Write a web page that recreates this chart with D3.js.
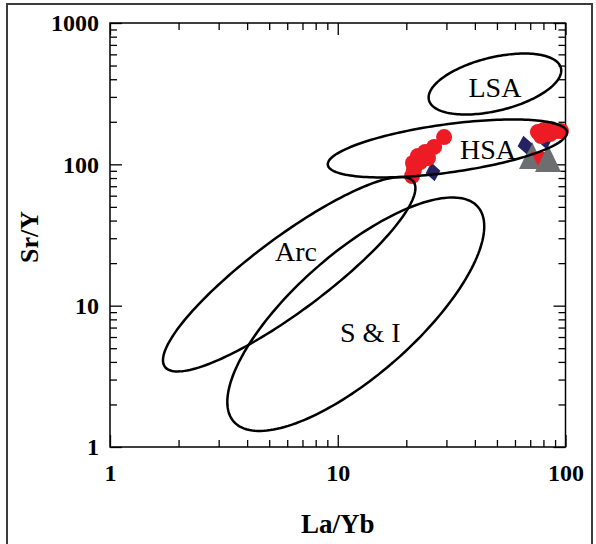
<!DOCTYPE html>
<html>
<head>
<meta charset="utf-8">
<script src="https://cdn.jsdelivr.net/npm/d3@7"></script>
<style>
    body { margin: 0; background: #fff; }
    text { font-family: "Liberation Serif", "Times New Roman", serif; }
</style>
</head>
<body>
<svg id="chart" width="596" height="544"></svg>
<script>

//Etiquettes des axes
const xLabels = [1, 10, 100];
const yLabels = [1, 10, 100, 1000];

//Champs (ellipses) : centre, bout du grand axe, bout du petit axe, position du nom
const fieldNames = ["Arc", "S & I", "HSA", "LSA"];
const fieldCentre = [[6.12, 16.7], [12.0, 8.70], [30.3, 129.5], [49.0, 370]];
const fieldMajorEnd = [[21.5, 75.5], [41.2, 50.1], [101.5, 169.4], [95.5, 480]];
const fieldMinorEnd = [[4.90, 27.1], [7.99, 18.3], [29.3, 191], [46.0, 565]];
const fieldLabelAt = [[6.56, 24.0], [13.9, 6.41], [45.7, 126], [49.0, 347]];

//Echantillons
const redX = [29.3, 26.5, 24.2, 22.5, 24.9, 23.0, 21.4, 21.6, 21.2,
    75.7, 80.4, 86.4, 91.8, 95.5, 78.1, 85.5];
const redY = [156, 132.7, 122.3, 114.6, 110.9, 103.9, 102.2, 91.2, 82.7,
    169.4, 175, 177.9, 172.2, 172.2, 158.7, 163.9];

const navyX = [26.2, 66.4, 81.3];
const navyY = [88.3, 137, 148.7];

const greyX = [71.3, 83.8];
const greyY = [107.3, 102.2];

const redTriX = [77.3];
const redTriY = [110.9];

const svg = d3.select("#chart");

const margin = { top: 23, right: 30.5, bottom: 97, left: 110 };
const graphWidth = 596 - margin.left - margin.right;
const graphHeight = 544 - margin.top - margin.bottom;

//cadre extérieur
svg.append("rect")
    .attr("x", 7).attr("y", 4)
    .attr("width", 585).attr("height", 600)
    .attr("fill", "none")
    .attr("stroke", "#3c3c3c")
    .attr("stroke-width", 2);

const container = svg.append("g")
    .attr("transform", `translate(${margin.left}, ${margin.top})`);

const scaleX = d3.scaleLog().domain([1, 100]).range([0, graphWidth]);
const scaleY = d3.scaleLog().domain([1, 1000]).range([graphHeight, 0]);

const isMajor = d => Math.abs(Math.log10(d) - Math.round(Math.log10(d))) < 1e-9;

function styleAxis(g, horizontal, sign) {
    g.select(".domain").remove();
    g.selectAll(".tick line")
        .attr("stroke", "#000")
        .attr("stroke-width", 1.3)
        .attr(horizontal ? "y2" : "x2", d => sign * (isMajor(d) ? 12 : 7));
}

//axes (ticks vers l'intérieur)
container.append("g")
    .attr("transform", `translate(0, ${graphHeight})`)
    .call(d3.axisBottom(scaleX).tickValues(scaleX.ticks()).tickSizeInner(-7).tickSizeOuter(0).tickPadding(17)
        .tickFormat(d => xLabels.includes(d) ? d : ""))
    .call(g => styleAxis(g, true, -1))
    .call(g => g.selectAll("text").attr("font-size", 24).attr("font-weight", "bold")
        .attr("font-family", "Liberation Serif, serif").attr("fill", "#000"));

container.append("g")
    .call(d3.axisLeft(scaleY).tickValues(scaleY.ticks()).tickSizeInner(-7).tickSizeOuter(0).tickPadding(11)
        .tickFormat(d => yLabels.includes(d) ? d : ""))
    .call(g => styleAxis(g, false, 1))
    .call(g => g.selectAll("text").attr("font-size", 24).attr("font-weight", "bold")
        .attr("font-family", "Liberation Serif, serif").attr("fill", "#000"));

container.append("g")
    .call(d3.axisTop(scaleX).tickValues(scaleX.ticks()).tickSizeInner(-7).tickSizeOuter(0).tickFormat(""))
    .call(g => styleAxis(g, true, 1));

container.append("g")
    .attr("transform", `translate(${graphWidth}, 0)`)
    .call(d3.axisRight(scaleY).tickValues(scaleY.ticks()).tickSizeInner(-7).tickSizeOuter(0).tickFormat(""))
    .call(g => styleAxis(g, false, -1));

//boite du graph
container.append("rect")
    .attr("width", graphWidth).attr("height", graphHeight)
    .attr("fill", "none")
    .attr("stroke", "#000")
    .attr("stroke-width", 1.5);

//titres des axes
svg.append("text")
    .attr("x", margin.left + graphWidth / 2)
    .attr("y", 533)
    .attr("text-anchor", "middle")
    .attr("font-size", 27).attr("font-weight", "bold")
    .text("La/Yb");

svg.append("text")
    .attr("transform", "translate(38, 237) rotate(-90)")
    .attr("text-anchor", "middle")
    .attr("font-size", 26).attr("font-weight", "bold")
    .text("Sr/Y");

//symboles
const marks = container.append("g");

marks.selectAll(".grey0")
    .data(greyX.slice(0, 1))
    .enter()
    .append("path")
    .attr("transform", (d, i) => `translate(${scaleX(d)}, ${scaleY(greyY[i])})`)
    .attr("d", "M0,-18L13,9L-13,9Z")
    .attr("fill", "#6d6e70");

marks.selectAll(".redTri")
    .data(redTriX)
    .enter()
    .append("path")
    .attr("transform", (d, i) => `translate(${scaleX(d)}, ${scaleY(redTriY[i])})`)
    .attr("d", "M-9,-6L9,-6L0,12Z")
    .attr("fill", "#ed1c24");

marks.selectAll(".grey1")
    .data(greyX.slice(1))
    .enter()
    .append("path")
    .attr("transform", (d, i) => `translate(${scaleX(d)}, ${scaleY(greyY[i + 1])})`)
    .attr("d", "M0,-18L13,9L-13,9Z")
    .attr("fill", "#6d6e70");

marks.selectAll(".navy")
    .data(navyX)
    .enter()
    .append("path")
    .attr("transform", (d, i) => `translate(${scaleX(d)}, ${scaleY(navyY[i])}) rotate(-10)`)
    .attr("d", "M0,-9.5L7.5,0L0,9.5L-7.5,0Z")
    .attr("fill", "#262262");

marks.selectAll(".red")
    .data(redX)
    .enter()
    .append("circle")
    .attr("cx", d => scaleX(d))
    .attr("cy", (d, i) => scaleY(redY[i]))
    .attr("r", 8)
    .attr("fill", "#ed1c24");

//ellipses tracées dans l'espace log
const lineField = d3.line()
    .x(d => scaleX(d[0]))
    .y(d => scaleY(d[1]))
    .curve(d3.curveLinearClosed);

function ellipsePoints(c, a, b) {
    const lc = c.map(Math.log10), la = a.map(Math.log10), lb = b.map(Math.log10);
    return d3.range(0, 360, 2).map(deg => {
        const t = deg * Math.PI / 180;
        return [0, 1].map(k => Math.pow(10, lc[k] + (la[k] - lc[k]) * Math.cos(t) + (lb[k] - lc[k]) * Math.sin(t)));
    });
}

fieldNames.forEach((name, i) => {
    container.append("path")
        .attr("d", lineField(ellipsePoints(fieldCentre[i], fieldMajorEnd[i], fieldMinorEnd[i])))
        .attr("fill", "none")
        .attr("stroke", "#000")
        .attr("stroke-width", 2.5);

    container.append("text")
        .attr("x", scaleX(fieldLabelAt[i][0]))
        .attr("y", scaleY(fieldLabelAt[i][1]))
        .attr("dy", "0.33em")
        .attr("text-anchor", "middle")
        .attr("font-size", 28)
        .text(name);
});

</script>
</body>
</html>
